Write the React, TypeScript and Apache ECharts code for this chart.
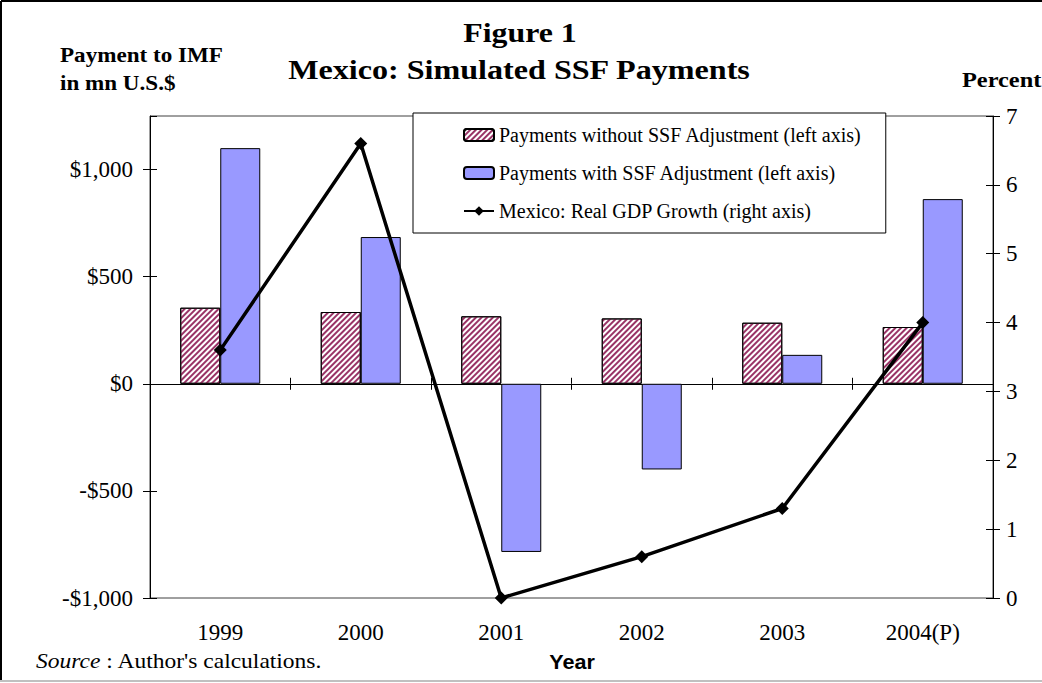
import React, { useEffect, useRef } from "react";
import * as echarts from "echarts";

const years = ["1999", "2000", "2001", "2002", "2003", "2004(P)"];
const paymentsWithout = [355, 335, 315, 305, 285, 265];
const paymentsWith = [1100, 685, -785, -400, 135, 862];
const gdpGrowth = [3.6, 6.6, 0, 0.6, 1.3, 4.0];
const leftTicks = { min: -1000, max: 1250, interval: 500 };
const rightTicks = { min: 0, max: 7, interval: 1 };

const SERIF = "'Liberation Serif', 'Times New Roman', serif";
const SANS = "'Liberation Sans', Arial, sans-serif";

function fmtMoney(v: number): string {
  const a = Math.abs(v).toLocaleString("en-US");
  return (v < 0 ? "-$" : "$") + a;
}

export default function App() {
  const ref = useRef<HTMLDivElement>(null);
  useEffect(() => {
    document.body.style.margin = "0";
    if (!ref.current) return;
    const chart = echarts.init(ref.current, undefined, { renderer: "svg" });
    const axisFont = { fontFamily: SERIF, fontSize: 23, color: "#000" };
    const option: any = {
      animation: false,
      backgroundColor: "#fff",
      grid: {
        left: 150,
        right: 49,
        top: 116,
        bottom: 85,
        show: true,
        borderColor: "#404040",
        borderWidth: 1,
      },
      legend: {
        orient: "vertical",
        left: 413,
        top: 113,
        itemWidth: 30,
        itemHeight: 12,
        itemGap: 18,
        padding: [12, 24, 12, 50],
        backgroundColor: "#fff",
        borderColor: "#000",
        borderWidth: 1,
        textStyle: { fontFamily: SERIF, fontSize: 20, color: "#000", lineHeight: 20 },
        data: [
          "Payments without SSF Adjustment (left axis)",
          "Payments with SSF Adjustment (left axis)",
          "Mexico: Real GDP Growth (right axis)",
        ],
      },
      xAxis: [
        {
          type: "category",
          data: years,
          position: "bottom",
          axisLine: { show: false, onZero: false },
          axisTick: { show: false },
          axisLabel: { ...axisFont, margin: 23 },
        },
        {
          type: "category",
          data: years,
          position: "bottom",
          axisLine: { show: true, onZero: true, onZeroAxisIndex: 0, lineStyle: { color: "#000", width: 1 } },
          axisTick: { show: true, length: 6, lineStyle: { color: "#000" } },
          axisLabel: { show: false },
        },
        {
          type: "category",
          data: years,
          position: "bottom",
          axisLine: { show: false, onZero: true, onZeroAxisIndex: 0 },
          axisTick: { show: true, inside: true, length: 6, lineStyle: { color: "#000" } },
          axisLabel: { show: false },
        },
      ],
      yAxis: [
        {
          type: "value",
          position: "left",
          ...leftTicks,
          axisLine: { show: true, lineStyle: { color: "#000" } },
          axisTick: { show: true, length: 7, lineStyle: { color: "#000" } },
          splitLine: { show: false },
          axisLabel: { ...axisFont, margin: 17, showMaxLabel: false, formatter: (v: number) => fmtMoney(v) },
        },
        {
          type: "value",
          position: "right",
          ...rightTicks,
          axisLine: { show: true, lineStyle: { color: "#000" } },
          axisTick: { show: true, length: 7, lineStyle: { color: "#000" } },
          splitLine: { show: false },
          axisLabel: { ...axisFont, margin: 13 },
        },
        {
          type: "value",
          position: "left",
          ...leftTicks,
          axisLine: { show: false },
          axisTick: { show: true, inside: true, length: 7, lineStyle: { color: "#000" } },
          splitLine: { show: false },
          axisLabel: { show: false },
        },
        {
          type: "value",
          position: "right",
          ...rightTicks,
          axisLine: { show: false },
          axisTick: { show: true, inside: true, length: 7, lineStyle: { color: "#000" } },
          splitLine: { show: false },
          axisLabel: { show: false },
        },
      ],
      series: [
        {
          name: "Payments without SSF Adjustment (left axis)",
          type: "bar",
          xAxisIndex: 0,
          yAxisIndex: 0,
          data: paymentsWithout,
          barWidth: 40,
          barGap: "0%",
          itemStyle: {
            color: "#ffffff",
            borderColor: "#000",
            borderWidth: 1,
            decal: {
              symbol: "rect",
              symbolSize: 1,
              color: "#993366",
              dashArrayX: [1, 0],
              dashArrayY: [2, 2],
              rotation: -Math.PI / 4,
            },
          },
        },
        {
          name: "Payments with SSF Adjustment (left axis)",
          type: "bar",
          xAxisIndex: 0,
          yAxisIndex: 0,
          data: paymentsWith,
          barWidth: 40,
          barGap: "0%",
          itemStyle: { color: "#9999ff", borderColor: "#000", borderWidth: 1 },
        },
        {
          name: "Mexico: Real GDP Growth (right axis)",
          type: "line",
          xAxisIndex: 0,
          yAxisIndex: 1,
          data: gdpGrowth,
          symbol: "diamond",
          symbolSize: 13,
          z: 5,
          lineStyle: { color: "#000", width: 3.5 },
          itemStyle: { color: "#000" },
        },
      ],
      graphic: [
        { type: "line", shape: { x1: 1, y1: 1, x2: 1042, y2: 1 }, style: { stroke: "#000", lineWidth: 2 } },
        { type: "line", shape: { x1: 1, y1: 1, x2: 1, y2: 681 }, style: { stroke: "#000", lineWidth: 2 } },
        { type: "line", shape: { x1: 0, y1: 681, x2: 1042, y2: 681 }, style: { stroke: "#c0c0c0", lineWidth: 2 } },
        {
          type: "text",
          x: 520,
          y: 33,
          scaleX: 1.18,
          style: { text: "Figure 1", fontFamily: SERIF, fontWeight: "bold", fontSize: 27, fill: "#000", align: "center", verticalAlign: "middle" },
        },
        {
          type: "text",
          x: 519,
          y: 70,
          scaleX: 1.19,
          style: {
            text: "Mexico: Simulated SSF Payments",
            fontFamily: SERIF,
            fontWeight: "bold",
            fontSize: 27,
            fill: "#000",
            align: "center",
            verticalAlign: "middle",
          },
        },
        {
          type: "text",
          x: 60,
          y: 55,
          scaleX: 1.1,
          style: { text: "Payment to IMF", fontFamily: SERIF, fontWeight: "bold", fontSize: 21, fill: "#000", align: "left", verticalAlign: "middle" },
        },
        {
          type: "text",
          x: 60,
          y: 83,
          scaleX: 1.1,
          style: { text: "in mn U.S.$", fontFamily: SERIF, fontWeight: "bold", fontSize: 21, fill: "#000", align: "left", verticalAlign: "middle" },
        },
        {
          type: "text",
          x: 962,
          y: 80,
          scaleX: 1.16,
          style: { text: "Percent", fontFamily: SERIF, fontWeight: "bold", fontSize: 21, fill: "#000", align: "left", verticalAlign: "middle" },
        },
        {
          type: "text",
          x: 36,
          y: 661,
          scaleX: 1.12,
          style: {
            text: "{i|Source} : Author's calculations.",
            fontFamily: SERIF,
            fontSize: 21,
            fill: "#000",
            align: "left",
            verticalAlign: "middle",
            rich: { i: { fontFamily: SERIF, fontStyle: "italic", fontSize: 21, fill: "#000" } },
          },
        },
        {
          type: "text",
          x: 572,
          y: 662,
          scaleX: 1.08,
          style: { text: "Year", fontFamily: SANS, fontWeight: "bold", fontSize: 20, fill: "#000", align: "center", verticalAlign: "middle" },
        },
      ],
    };
    chart.setOption(option);
    return () => chart.dispose();
  }, []);
  return <div ref={ref} style={{ width: 1042, height: 683, position: "absolute", left: 0, top: 0 }} />;
}
